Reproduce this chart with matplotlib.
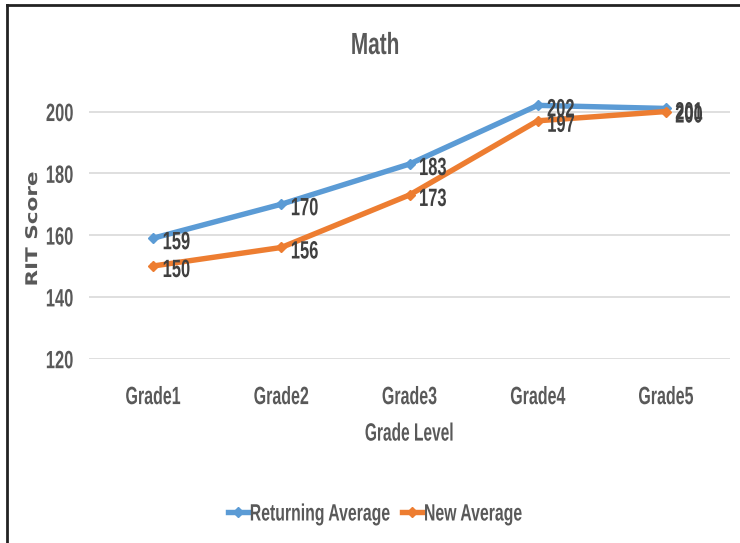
import matplotlib
matplotlib.use('Agg')
import matplotlib.pyplot as plt
from matplotlib.lines import Line2D
from matplotlib.patheffects import AbstractPathEffect
from matplotlib.transforms import Affine2D

# data
grades = ['Grade1', 'Grade2', 'Grade3', 'Grade4', 'Grade5']
returning_avg = [159, 170, 183, 202, 201]
new_avg = [150, 156, 173, 197, 200]
y_ticks = [120, 140, 160, 180, 200]


# squeeze text horizontally (reference font is a tall, narrow one)
class Squeeze(AbstractPathEffect):
    def __init__(self, sx=0.66, anchor='center'):
        super().__init__()
        self.sx = sx
        self.anchor = anchor

    def draw_path(self, renderer, gc, tpath, affine, rgbFace=None):
        ext = tpath.get_extents(affine)
        if self.anchor == 'left':
            x0 = ext.x0
        elif self.anchor == 'right':
            x0 = ext.x1
        else:
            x0 = (ext.x0 + ext.x1) / 2
        sq = Affine2D().translate(-x0, 0).scale(self.sx, 1).translate(x0, 0)
        renderer.draw_path(gc, tpath, affine + sq, rgbFace)


plt.rcParams['font.family'] = ['Liberation Sans', 'DejaVu Sans']
plt.rcParams['font.weight'] = 'bold'

blue = '#5B9BD5'
orange = '#ED7D31'
grey = '#595959'
W, H = 740, 543

fig = plt.figure(figsize=(7.4, 5.43), dpi=100)
ax = fig.add_axes([89 / W, 1 - 358.7 / H, (730 - 89) / W, (358.7 - 93) / H])

x = range(len(grades))
ax.plot(x, returning_avg, color=blue, lw=3.9, marker='D', ms=5.5, label='Returning Average', clip_on=False, zorder=3)
ax.plot(x, new_avg, color=orange, lw=3.9, marker='D', ms=5.5, label='New Average', clip_on=False, zorder=3)

# data labels
for i in x:
    for v in (returning_avg[i], new_avg[i]):
        t = ax.annotate(str(v), (i, v), xytext=(9, -4), textcoords='offset pixels',
                        ha='left', va='center', fontsize=18, color='#404040', zorder=4)
        t.set_path_effects([Squeeze(0.66, 'left')])

ax.set_xlim(-0.5, 4.5)
ax.set_ylim(120, 206)
ax.set_yticks(y_ticks)
ax.set_xticks(list(x))
ax.set_xticklabels(grades)
ax.grid(axis='y', color='#D9D9D9', lw=1.2)
ax.set_axisbelow(True)
for s in ax.spines.values():
    s.set_visible(False)
ax.tick_params(length=0, labelsize=18, labelcolor=grey)
ax.tick_params(axis='x', pad=19)
ax.tick_params(axis='y', pad=11)
for lab in ax.get_xticklabels():
    lab.set_path_effects([Squeeze(0.64, 'center')])
for lab in ax.get_yticklabels():
    lab.set_path_effects([Squeeze(0.66, 'right')])

xl = ax.set_xlabel('Grade Level', fontsize=18, fontweight='bold', color=grey, labelpad=9)
xl.set_path_effects([Squeeze(0.62, 'center')])

ttl = fig.text(375 / W, 1 - 46 / H, 'Math', fontsize=22, color=grey, ha='center', va='center')
ttl.set_path_effects([Squeeze(0.68, 'center')])

yl = fig.text(33 / W, 1 - 229 / H, 'RIT Score', fontsize=15.5, color=grey, family='DejaVu Sans',
              fontweight='bold', rotation=90, ha='center', va='center')
yl.set_path_effects([Squeeze(0.75, 'center')])

leg = fig.legend(loc='center left', bbox_to_anchor=(228 / W, 1 - 514 / H), ncol=2, frameon=False, fontsize=17,
                 handlelength=0.85, handletextpad=0.05, columnspacing=-2.4, labelcolor=grey, borderpad=0,
                 borderaxespad=0)
for t in leg.get_texts():
    t.set_path_effects([Squeeze(0.67, 'left')])

# frame (top and left edges only visible)
fig.add_artist(Line2D([7 / W, 1.0], [1 - 5 / H, 1 - 5 / H], color='#222222', lw=2))
fig.add_artist(Line2D([7 / W, 7 / W], [0.0, 1 - 5 / H], color='#222222', lw=2))

fig.savefig('out.png', dpi=100)
